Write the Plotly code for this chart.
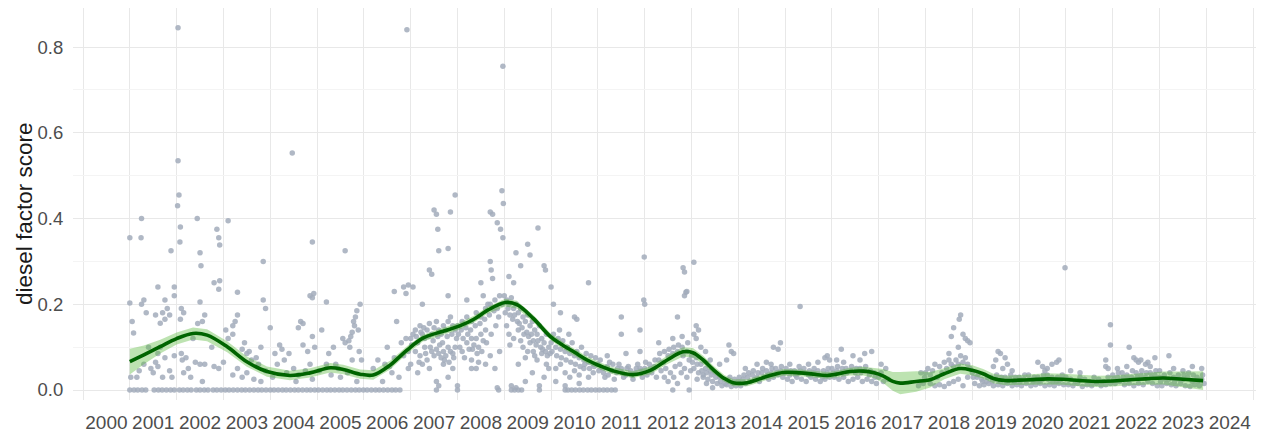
import plotly.graph_objects as go

# ---------------- data ----------------
year_labels = [str(y) for y in range(2000, 2025)]
score_ticks = [0.0, 0.2, 0.4, 0.6, 0.8]
score_tick_text = ["0.0", "0.2", "0.4", "0.6", "0.8"]
y_title = "diesel factor score"

# observations (decimal year, diesel factor score)
pts_2001_2003 = [
    (2001.0, 0.355), (2001.0, 0.203), (2001.02, 0.03), (2001.05, 0.16), (2001.08, 0.133), (2001.15, 0.03),
    (2001.25, 0.40), (2001.24, 0.355), (2001.25, 0.20), (2001.3, 0.21), (2001.3, 0.06), (2001.4, 0.10),
    (2001.45, 0.05), (2001.5, 0.04), (2001.55, 0.175), (2001.55, 0.065), (2001.6, 0.24), (2001.6, 0.055),
    (2001.6, 0.085), (2001.65, 0.10), (2001.7, 0.18), (2001.7, 0.03), (2001.75, 0.165), (2001.75, 0.075),
    (2001.8, 0.19), (2001.85, 0.175), (2001.85, 0.045), (2001.88, 0.325), (2001.9, 0.03), (2001.95, 0.22),
    (2001.95, 0.24), (2001.95, 0.08), (2001.35, 0.18), (2001.65, 0.156), (2001.75, 0.21), (2001.2, 0.045),
    (2002.03, 0.845), (2002.03, 0.535), (2002.05, 0.455), (2002.02, 0.43), (2002.08, 0.38), (2002.07, 0.345),
    (2002.44, 0.40), (2002.5, 0.32), (2002.52, 0.29), (2002.86, 0.375), (2002.9, 0.355), (2002.92, 0.338),
    (2002.8, 0.25), (2002.92, 0.255), (2002.9, 0.235), (2002.5, 0.205), (2002.6, 0.175), (2002.1, 0.19),
    (2002.15, 0.18), (2002.45, 0.155), (2002.55, 0.16), (2002.35, 0.12), (2002.1, 0.085), (2002.2, 0.075),
    (2002.4, 0.065), (2002.5, 0.06), (2002.12, 0.07), (2002.15, 0.04), (2002.3, 0.03), (2002.55, 0.02),
    (2002.8, 0.055), (2002.9, 0.05), (2002.75, 0.10), (2002.6, 0.06), (2002.08, 0.165), (2002.25, 0.05),
    (2003.1, 0.395), (2003.3, 0.228), (2003.05, 0.14), (2003.2, 0.15), (2003.25, 0.16), (2003.3, 0.175),
    (2003.1, 0.12), (2003.4, 0.095), (2003.5, 0.085), (2003.55, 0.09), (2003.6, 0.07), (2003.7, 0.075),
    (2003.2, 0.13), (2003.3, 0.05), (2003.4, 0.03), (2003.5, 0.04), (2003.8, 0.02), (2003.85, 0.30),
    (2003.85, 0.21), (2003.9, 0.19), (2003.75, 0.06), (2003.9, 0.045), (2003.8, 0.10), (2003.2, 0.035),
    (2003.65, 0.025), (2003.45, 0.11), (2003.0, 0.065),
]
pts_2004_2006 = [
    (2004.0, 0.145), (2004.1, 0.085), (2004.15, 0.06), (2004.2, 0.105), (2004.25, 0.095), (2004.3, 0.07),
    (2004.35, 0.04), (2004.5, 0.05), (2004.6, 0.035), (2004.47, 0.553), (2004.85, 0.22), (2004.9, 0.215),
    (2004.93, 0.225), (2004.9, 0.345), (2004.65, 0.16), (2004.6, 0.145), (2004.7, 0.105), (2004.8, 0.09),
    (2004.95, 0.10), (2004.75, 0.045), (2004.55, 0.02), (2004.9, 0.025), (2004.85, 0.06), (2004.9, 0.125),
    (2004.7, 0.155), (2004.4, 0.085), (2004.05, 0.03),
    (2005.2, 0.205), (2005.1, 0.14), (2005.35, 0.10), (2005.2, 0.06), (2005.3, 0.035), (2005.45, 0.05),
    (2005.6, 0.325), (2005.55, 0.12), (2005.6, 0.11), (2005.8, 0.15), (2005.82, 0.17), (2005.85, 0.185),
    (2005.78, 0.16), (2005.75, 0.135), (2005.72, 0.125), (2005.68, 0.115), (2005.7, 0.10), (2005.92, 0.20),
    (2005.9, 0.09), (2005.95, 0.07), (2005.65, 0.04), (2005.5, 0.03), (2005.85, 0.02), (2005.4, 0.06),
    (2005.25, 0.085), (2005.05, 0.045), (2005.75, 0.07), (2005.88, 0.14),
    (2006.92, 0.84), (2006.95, 0.245), (2006.85, 0.24), (2006.65, 0.23), (2006.7, 0.16), (2006.9, 0.225),
    (2006.5, 0.10), (2006.3, 0.07), (2006.2, 0.05), (2006.45, 0.06), (2006.6, 0.04), (2006.75, 0.03),
    (2006.8, 0.11), (2006.9, 0.12), (2006.85, 0.08), (2006.95, 0.09), (2006.95, 0.05), (2006.4, 0.02),
    (2006.65, 0.075), (2006.55, 0.055),
]
pts_2007_2009 = [
    (2007.5, 0.42), (2007.55, 0.41), (2007.58, 0.375), (2007.95, 0.455), (2007.85, 0.415), (2007.6, 0.325),
    (2007.8, 0.33), (2007.4, 0.28), (2007.45, 0.27), (2007.25, 0.20), (2007.8, 0.22), (2007.05, 0.24),
    (2007.55, 0.02), (2007.6, 0.01), (2007.8, 0.03), (2007.15, 0.04),
    (2007.0, 0.12), (2007.05, 0.13), (2007.1, 0.14), (2007.15, 0.11), (2007.2, 0.15), (2007.25, 0.13),
    (2007.3, 0.12), (2007.35, 0.14), (2007.4, 0.155), (2007.45, 0.13), (2007.5, 0.145), (2007.55, 0.16),
    (2007.6, 0.14), (2007.65, 0.13), (2007.7, 0.15), (2007.75, 0.14), (2007.8, 0.16), (2007.85, 0.17),
    (2007.9, 0.15), (2007.95, 0.14), (2007.1, 0.09), (2007.2, 0.08), (2007.3, 0.10), (2007.35, 0.07),
    (2007.45, 0.09), (2007.5, 0.08), (2007.55, 0.095), (2007.6, 0.085), (2007.65, 0.075), (2007.7, 0.09),
    (2007.75, 0.08), (2007.8, 0.10), (2007.85, 0.09), (2007.9, 0.085), (2007.95, 0.10), (2007.0, 0.06),
    (2007.25, 0.06), (2007.4, 0.05), (2007.7, 0.06), (2007.9, 0.05),
    (2008.97, 0.755), (2008.95, 0.465), (2008.98, 0.435), (2008.7, 0.415), (2008.75, 0.41), (2008.85, 0.39),
    (2008.92, 0.375), (2008.97, 0.355), (2008.7, 0.30), (2008.72, 0.28), (2008.75, 0.26), (2008.5, 0.25),
    (2008.55, 0.22), (2008.2, 0.21), (2008.65, 0.20),
    (2008.0, 0.15), (2008.1, 0.16), (2008.2, 0.17), (2008.3, 0.16), (2008.4, 0.18), (2008.5, 0.17),
    (2008.6, 0.19), (2008.7, 0.20), (2008.8, 0.21), (2008.9, 0.22), (2008.95, 0.20), (2008.85, 0.19),
    (2008.05, 0.10), (2008.1, 0.09), (2008.2, 0.11), (2008.25, 0.095), (2008.3, 0.12), (2008.35, 0.105),
    (2008.4, 0.12), (2008.45, 0.10), (2008.5, 0.13), (2008.55, 0.115), (2008.6, 0.14), (2008.15, 0.075),
    (2008.3, 0.07), (2008.45, 0.065), (2008.6, 0.06), (2008.7, 0.08), (2008.8, 0.05), (2008.0, 0.01),
    (2008.3, 0.05), (2008.4, 0.05), (2008.85, 0.005), (2008.9, 0.09),
    (2009.72, 0.378), (2009.55, 0.315), (2009.5, 0.34), (2009.25, 0.32), (2009.35, 0.29), (2009.85, 0.29),
    (2009.88, 0.28), (2009.1, 0.265), (2009.2, 0.25),
    (2009.0, 0.22), (2009.05, 0.21), (2009.1, 0.20), (2009.15, 0.215), (2009.2, 0.19), (2009.25, 0.20),
    (2009.3, 0.18), (2009.35, 0.19), (2009.4, 0.17), (2009.45, 0.16), (2009.5, 0.175), (2009.55, 0.15),
    (2009.6, 0.16), (2009.65, 0.14), (2009.7, 0.13), (2009.75, 0.15), (2009.8, 0.12), (2009.85, 0.11),
    (2009.9, 0.13), (2009.95, 0.10), (2009.05, 0.15), (2009.1, 0.13), (2009.2, 0.12), (2009.3, 0.14),
    (2009.4, 0.10), (2009.5, 0.09), (2009.55, 0.11), (2009.65, 0.08), (2009.7, 0.07), (2009.8, 0.085),
    (2009.9, 0.06), (2009.3, 0.06), (2009.6, 0.04), (2009.95, 0.05), (2009.15, 0.01), (2009.25, 0.005),
    (2009.45, 0.02), (2009.75, 0.01), (2009.85, 0.03),
]
pts_2010_2013 = [
    (2010.0, 0.24), (2010.05, 0.20), (2010.2, 0.18), (2010.5, 0.17), (2010.55, 0.165), (2010.8, 0.25),
    (2010.0, 0.11), (2010.1, 0.10), (2010.2, 0.095), (2010.3, 0.09), (2010.4, 0.085), (2010.5, 0.08),
    (2010.6, 0.075), (2010.7, 0.07), (2010.8, 0.065), (2010.9, 0.06), (2010.05, 0.13), (2010.15, 0.12),
    (2010.25, 0.115), (2010.35, 0.10), (2010.45, 0.11), (2010.55, 0.09), (2010.65, 0.10), (2010.75, 0.085),
    (2010.85, 0.08), (2010.95, 0.075), (2010.1, 0.05), (2010.2, 0.06), (2010.3, 0.04), (2010.4, 0.03),
    (2010.5, 0.045), (2010.6, 0.035), (2010.7, 0.05), (2010.8, 0.03), (2010.9, 0.04), (2010.3, 0.01),
    (2010.6, 0.015), (2010.1, 0.02),
    (2011.99, 0.31), (2011.98, 0.21), (2012.0, 0.20), (2011.5, 0.17), (2011.9, 0.14), (2011.5, 0.13),
    (2011.0, 0.06), (2011.1, 0.05), (2011.2, 0.055), (2011.3, 0.045), (2011.4, 0.04), (2011.5, 0.05),
    (2011.6, 0.035), (2011.7, 0.045), (2011.8, 0.04), (2011.9, 0.05), (2011.05, 0.07), (2011.25, 0.065),
    (2011.45, 0.06), (2011.65, 0.055), (2011.85, 0.06), (2011.15, 0.03), (2011.35, 0.025), (2011.55, 0.03),
    (2011.75, 0.025), (2011.95, 0.03), (2011.2, 0.08), (2011.6, 0.085), (2011.9, 0.09),
    (2012.82, 0.285), (2012.85, 0.275), (2013.05, 0.298), (2012.88, 0.228), (2012.85, 0.22), (2012.9, 0.23),
    (2012.7, 0.17), (2013.1, 0.15), (2013.15, 0.14),
    (2012.0, 0.05), (2012.1, 0.06), (2012.2, 0.055), (2012.3, 0.07), (2012.4, 0.065), (2012.5, 0.08),
    (2012.6, 0.085), (2012.7, 0.09), (2012.8, 0.10), (2012.9, 0.09), (2012.05, 0.035), (2012.15, 0.04),
    (2012.25, 0.03), (2012.35, 0.045), (2012.45, 0.05), (2012.55, 0.04), (2012.65, 0.055), (2012.75, 0.06),
    (2012.85, 0.05), (2012.95, 0.07), (2012.5, 0.02), (2012.7, 0.015), (2012.9, 0.03), (2012.3, 0.11),
    (2012.6, 0.12), (2012.8, 0.125),
    (2013.0, 0.08), (2013.1, 0.075), (2013.2, 0.06), (2013.3, 0.05), (2013.4, 0.045), (2013.5, 0.04),
    (2013.6, 0.03), (2013.7, 0.025), (2013.8, 0.02), (2013.9, 0.015), (2013.05, 0.05), (2013.15, 0.04),
    (2013.25, 0.035), (2013.35, 0.025), (2013.45, 0.02), (2013.55, 0.015), (2013.65, 0.01), (2013.75, 0.012),
    (2013.85, 0.008), (2013.95, 0.01), (2013.1, 0.12), (2013.2, 0.10), (2013.3, 0.09), (2013.05, 0.13),
    (2013.6, 0.06), (2013.75, 0.07), (2013.85, 0.09), (2013.8, 0.105), (2013.9, 0.085), (2013.25, 0.03),
    (2013.4, 0.07), (2013.45, 0.005),
]
pts_2014_2018 = [
    (2014.0, 0.02), (2014.1, 0.025), (2014.2, 0.03), (2014.3, 0.035), (2014.4, 0.03), (2014.5, 0.04),
    (2014.6, 0.045), (2014.7, 0.04), (2014.8, 0.05), (2014.9, 0.045), (2014.05, 0.01), (2014.15, 0.015),
    (2014.25, 0.02), (2014.35, 0.025), (2014.45, 0.02), (2014.55, 0.03), (2014.65, 0.025), (2014.75, 0.03),
    (2014.85, 0.035), (2014.95, 0.03), (2014.15, 0.05), (2014.4, 0.06), (2014.6, 0.065), (2014.75, 0.10),
    (2014.85, 0.095), (2014.9, 0.11), (2014.7, 0.06),
    (2015.32, 0.195), (2015.0, 0.04), (2015.1, 0.035), (2015.2, 0.045), (2015.3, 0.04), (2015.4, 0.05),
    (2015.5, 0.035), (2015.6, 0.04), (2015.7, 0.045), (2015.8, 0.03), (2015.9, 0.04), (2015.05, 0.025),
    (2015.15, 0.02), (2015.25, 0.03), (2015.35, 0.025), (2015.45, 0.02), (2015.55, 0.03), (2015.65, 0.025),
    (2015.75, 0.02), (2015.85, 0.025), (2015.95, 0.03), (2015.1, 0.06), (2015.3, 0.055), (2015.5, 0.06),
    (2015.7, 0.065), (2015.85, 0.075), (2015.9, 0.08), (2015.95, 0.07),
    (2016.0, 0.05), (2016.1, 0.045), (2016.2, 0.04), (2016.3, 0.05), (2016.4, 0.045), (2016.5, 0.04),
    (2016.6, 0.05), (2016.7, 0.045), (2016.8, 0.035), (2016.9, 0.04), (2016.05, 0.03), (2016.15, 0.025),
    (2016.25, 0.03), (2016.35, 0.02), (2016.45, 0.025), (2016.55, 0.03), (2016.65, 0.02), (2016.75, 0.025),
    (2016.85, 0.02), (2016.95, 0.015), (2016.1, 0.07), (2016.25, 0.065), (2016.45, 0.08), (2016.6, 0.07),
    (2016.85, 0.09), (2016.2, 0.095), (2016.7, 0.085),
    (2017.0, 0.03), (2017.05, 0.04), (2017.1, 0.02), (2017.15, 0.05), (2017.2, 0.025), (2017.05, 0.06),
    (2017.9, 0.02), (2017.95, 0.015), (2017.9, 0.04), (2017.85, 0.01), (2017.98, 0.03),
    (2018.75, 0.175), (2018.72, 0.165), (2018.6, 0.145), (2018.55, 0.125), (2018.8, 0.13), (2018.85, 0.12),
    (2018.9, 0.115), (2018.95, 0.11), (2018.7, 0.10), (2018.5, 0.085),
    (2018.0, 0.04), (2018.05, 0.05), (2018.1, 0.035), (2018.15, 0.045), (2018.2, 0.06), (2018.25, 0.03),
    (2018.3, 0.055), (2018.35, 0.04), (2018.4, 0.065), (2018.45, 0.05), (2018.5, 0.07), (2018.55, 0.06),
    (2018.6, 0.055), (2018.65, 0.07), (2018.7, 0.06), (2018.75, 0.08), (2018.8, 0.065), (2018.85, 0.075),
    (2018.9, 0.06), (2018.95, 0.05), (2018.1, 0.015), (2018.2, 0.01), (2018.3, 0.012), (2018.4, 0.008),
    (2018.5, 0.015), (2018.6, 0.02), (2018.7, 0.025), (2018.8, 0.01), (2018.9, 0.03),
]
pts_2019_2023 = [
    (2019.0, 0.04), (2019.1, 0.03), (2019.2, 0.025), (2019.3, 0.02), (2019.4, 0.03), (2019.5, 0.025),
    (2019.6, 0.02), (2019.7, 0.03), (2019.8, 0.025), (2019.9, 0.02), (2019.05, 0.015), (2019.15, 0.01),
    (2019.25, 0.012), (2019.35, 0.015), (2019.45, 0.01), (2019.55, 0.012), (2019.65, 0.01), (2019.75, 0.015),
    (2019.85, 0.01), (2019.95, 0.012), (2019.55, 0.09), (2019.6, 0.085), (2019.5, 0.07), (2019.7, 0.075),
    (2019.75, 0.06), (2019.65, 0.05), (2019.45, 0.055), (2019.85, 0.045),
    (2020.0, 0.03), (2020.1, 0.025), (2020.2, 0.035), (2020.3, 0.02), (2020.4, 0.03), (2020.5, 0.025),
    (2020.6, 0.035), (2020.7, 0.03), (2020.8, 0.02), (2020.9, 0.025), (2020.05, 0.01), (2020.15, 0.015),
    (2020.25, 0.01), (2020.35, 0.012), (2020.45, 0.015), (2020.55, 0.01), (2020.65, 0.012), (2020.75, 0.01),
    (2020.85, 0.015), (2020.95, 0.012), (2020.4, 0.065), (2020.5, 0.055), (2020.6, 0.05), (2020.7, 0.06),
    (2020.8, 0.065), (2020.85, 0.07), (2020.98, 0.285), (2020.55, 0.045),
    (2021.0, 0.03), (2021.1, 0.025), (2021.2, 0.02), (2021.3, 0.03), (2021.4, 0.025), (2021.5, 0.02),
    (2021.6, 0.03), (2021.7, 0.025), (2021.8, 0.02), (2021.9, 0.03), (2021.05, 0.012), (2021.15, 0.01),
    (2021.25, 0.015), (2021.35, 0.008), (2021.45, 0.012), (2021.55, 0.01), (2021.65, 0.015), (2021.75, 0.01),
    (2021.85, 0.012), (2021.95, 0.015), (2021.95, 0.152), (2021.95, 0.105), (2021.85, 0.07), (2021.85, 0.055),
    (2021.1, 0.045), (2021.3, 0.04), (2021.9, 0.05),
    (2022.0, 0.035), (2022.1, 0.03), (2022.2, 0.04), (2022.3, 0.035), (2022.4, 0.03), (2022.5, 0.04),
    (2022.6, 0.035), (2022.7, 0.03), (2022.8, 0.04), (2022.9, 0.035), (2022.05, 0.015), (2022.15, 0.02),
    (2022.25, 0.012), (2022.35, 0.015), (2022.45, 0.01), (2022.55, 0.015), (2022.65, 0.012), (2022.75, 0.02),
    (2022.85, 0.015), (2022.95, 0.01), (2022.45, 0.075), (2022.5, 0.07), (2022.55, 0.065), (2022.6, 0.07),
    (2022.7, 0.06), (2022.75, 0.065), (2022.8, 0.055), (2022.35, 0.10), (2022.9, 0.075), (2022.1, 0.05),
    (2022.3, 0.055),
    (2023.0, 0.03), (2023.1, 0.035), (2023.2, 0.025), (2023.3, 0.03), (2023.4, 0.035), (2023.5, 0.025),
    (2023.6, 0.03), (2023.7, 0.02), (2023.8, 0.03), (2023.9, 0.025), (2023.05, 0.01), (2023.15, 0.015),
    (2023.25, 0.012), (2023.35, 0.01), (2023.45, 0.015), (2023.55, 0.01), (2023.65, 0.008), (2023.75, 0.012),
    (2023.85, 0.01), (2023.95, 0.015), (2023.3, 0.05), (2023.5, 0.045), (2023.7, 0.055), (2023.9, 0.05),
    (2023.0, 0.045), (2023.2, 0.08),
]
# additional observations in the dense clusters around the trend
pts_dense_clusters = [
    (2007.02, 0.105), (2007.12, 0.125), (2007.22, 0.135), (2007.28, 0.145), (2007.38, 0.125), (2007.48, 0.115),
    (2007.58, 0.125), (2007.68, 0.11), (2007.78, 0.125), (2007.88, 0.13), (2007.98, 0.12), (2007.42, 0.10),
    (2007.62, 0.105), (2007.72, 0.07), (2007.82, 0.065), (2007.92, 0.075), (2007.32, 0.085), (2007.18, 0.065),
    (2008.02, 0.13), (2008.08, 0.14), (2008.18, 0.145), (2008.28, 0.14), (2008.38, 0.15), (2008.48, 0.155),
    (2008.58, 0.165), (2008.68, 0.175), (2008.78, 0.185), (2008.88, 0.17), (2008.12, 0.12), (2008.22, 0.13),
    (2008.32, 0.095), (2008.42, 0.085), (2008.52, 0.09), (2008.62, 0.11), (2008.72, 0.13), (2008.82, 0.15),
    (2009.02, 0.18), (2009.08, 0.19), (2009.12, 0.175), (2009.18, 0.165), (2009.22, 0.175), (2009.28, 0.16),
    (2009.32, 0.155), (2009.38, 0.145), (2009.42, 0.13), (2009.48, 0.135), (2009.52, 0.125), (2009.58, 0.13),
    (2009.62, 0.115), (2009.68, 0.105), (2009.72, 0.115), (2009.78, 0.10), (2009.82, 0.095), (2009.88, 0.09),
    (2009.92, 0.08), (2009.98, 0.085), (2009.12, 0.105), (2009.35, 0.115), (2009.62, 0.09), (2009.45, 0.075),
    (2010.02, 0.09), (2010.12, 0.08), (2010.22, 0.075), (2010.32, 0.07), (2010.42, 0.065), (2010.52, 0.06),
    (2010.62, 0.055), (2010.72, 0.06), (2010.82, 0.05), (2010.92, 0.055), (2010.18, 0.14), (2010.38, 0.13),
    (2011.02, 0.045), (2011.12, 0.04), (2011.22, 0.035), (2011.32, 0.06), (2011.42, 0.05), (2011.52, 0.04),
    (2011.62, 0.05), (2011.72, 0.035), (2011.82, 0.05), (2011.92, 0.045),
    (2012.02, 0.065), (2012.12, 0.05), (2012.22, 0.07), (2012.32, 0.085), (2012.42, 0.09), (2012.52, 0.095),
    (2012.62, 0.10), (2012.72, 0.105), (2012.82, 0.08), (2012.92, 0.11), (2012.42, 0.03), (2012.62, 0.03),
    (2012.78, 0.04), (2012.98, 0.045),
    (2013.02, 0.065), (2013.12, 0.06), (2013.22, 0.045), (2013.32, 0.04), (2013.42, 0.035), (2013.52, 0.03),
    (2013.62, 0.02), (2013.72, 0.015), (2013.82, 0.03), (2013.92, 0.025), (2013.12, 0.025), (2013.32, 0.015),
    (2014.02, 0.03), (2014.12, 0.035), (2014.22, 0.04), (2014.32, 0.045), (2014.42, 0.04), (2014.52, 0.05),
    (2014.62, 0.035), (2014.72, 0.05), (2014.82, 0.04), (2014.92, 0.055),
    (2015.02, 0.05), (2015.12, 0.045), (2015.22, 0.035), (2015.32, 0.045), (2015.42, 0.04), (2015.52, 0.045),
    (2015.62, 0.05), (2015.72, 0.035), (2015.82, 0.045), (2015.92, 0.05),
    (2016.02, 0.04), (2016.12, 0.055), (2016.22, 0.05), (2016.32, 0.04), (2016.42, 0.055), (2016.52, 0.05),
    (2016.62, 0.04), (2016.72, 0.055), (2016.82, 0.045), (2016.92, 0.03),
    (2019.02, 0.03), (2019.12, 0.035), (2019.22, 0.02), (2019.32, 0.03), (2019.42, 0.02), (2019.52, 0.035),
    (2019.62, 0.03), (2019.72, 0.02), (2019.82, 0.035), (2019.92, 0.03),
    (2020.02, 0.02), (2020.12, 0.035), (2020.22, 0.025), (2020.32, 0.03), (2020.42, 0.02), (2020.52, 0.035),
    (2020.62, 0.025), (2020.72, 0.02), (2020.82, 0.03), (2020.92, 0.035),
    (2022.02, 0.025), (2022.12, 0.04), (2022.22, 0.03), (2022.32, 0.025), (2022.42, 0.045), (2022.52, 0.03),
    (2022.62, 0.045), (2022.72, 0.04), (2022.82, 0.03), (2022.92, 0.045),
    (2023.02, 0.02), (2023.12, 0.025), (2023.22, 0.04), (2023.32, 0.02), (2023.42, 0.025), (2023.52, 0.035),
    (2023.62, 0.04), (2023.72, 0.035), (2023.82, 0.02), (2023.92, 0.035),
]
# dates of observations with a score of exactly zero
zero_score_years = [
    2001.0, 2001.09, 2001.17, 2001.26, 2001.34, 2001.52, 2001.61, 2001.69, 2001.78, 2001.87, 2001.95,
    2002.06, 2002.14, 2002.23, 2002.31, 2002.42, 2002.5, 2002.59, 2002.67, 2002.78, 2002.86, 2002.95,
    2003.04, 2003.12, 2003.21, 2003.3, 2003.39, 2003.47, 2003.56, 2003.65, 2003.74, 2003.82, 2003.91,
    2004.0, 2004.08, 2004.17, 2004.26, 2004.34, 2004.43, 2004.52, 2004.6, 2004.69, 2004.78, 2004.86,
    2004.95, 2005.03, 2005.12, 2005.21, 2005.29, 2005.38, 2005.47, 2005.55, 2005.64, 2005.73, 2005.82,
    2005.9, 2005.99, 2006.07, 2006.16, 2006.25, 2006.33, 2006.42, 2006.51, 2006.6, 2006.68, 2006.77,
    2007.55, 2008.0, 2008.88, 2009.15, 2009.22, 2009.3, 2009.37, 2009.75, 2010.3,
    2010.36, 2010.44, 2010.52, 2010.61, 2010.69, 2010.78, 2010.86, 2010.95, 2011.03, 2011.12,
    2011.2, 2011.29, 2011.37, 2012.6, 2012.95,
]

# smoothed trend (loess) with its confidence band
trend_year = [
    2001.0, 2001.3, 2001.65, 2002.0, 2002.35, 2002.65, 2003.08, 2003.5, 2003.93, 2004.42, 2004.85,
    2005.28, 2005.56, 2005.92, 2006.2, 2006.56, 2006.92, 2007.26, 2007.69, 2008.06, 2008.35, 2008.63,
    2009.02, 2009.27, 2009.62, 2009.98, 2010.2, 2010.5, 2010.77, 2011.05, 2011.32, 2011.75, 2012.12,
    2012.48, 2012.82, 2013.03, 2013.25, 2013.46, 2013.7, 2013.89, 2014.19, 2014.4, 2014.62, 2014.96,
    2015.32, 2015.6, 2015.9, 2016.1, 2016.39, 2016.67, 2016.9, 2017.09, 2017.3, 2017.46, 2017.8,
    2018.1, 2018.4, 2018.74, 2019.0, 2019.23, 2019.45, 2019.7, 2020.0, 2020.24, 2020.6, 2020.94,
    2021.3, 2021.67, 2022.0, 2022.37, 2022.7, 2023.08, 2023.5, 2023.93,
]
trend_score = [
    0.066, 0.082, 0.101, 0.120, 0.132, 0.128, 0.101, 0.066, 0.043, 0.034, 0.040,
    0.052, 0.048, 0.037, 0.035, 0.058, 0.093, 0.121, 0.137, 0.150, 0.165, 0.185,
    0.204, 0.199, 0.167, 0.125, 0.108, 0.088, 0.070, 0.056, 0.045, 0.036, 0.046,
    0.070, 0.089, 0.087, 0.070, 0.048, 0.027, 0.017, 0.017, 0.024, 0.032, 0.041,
    0.040, 0.037, 0.034, 0.037, 0.043, 0.044, 0.040, 0.033, 0.020, 0.016, 0.020,
    0.024, 0.038, 0.050, 0.046, 0.038, 0.027, 0.022, 0.023, 0.024, 0.026, 0.025,
    0.022, 0.020, 0.021, 0.024, 0.026, 0.028, 0.025, 0.022,
]
trend_halfwidth = [
    0.030, 0.022, 0.016, 0.014, 0.014, 0.014, 0.013, 0.012, 0.012, 0.011, 0.011,
    0.011, 0.011, 0.011, 0.011, 0.010, 0.009, 0.008, 0.008, 0.008, 0.008, 0.008,
    0.009, 0.009, 0.008, 0.008, 0.008, 0.008, 0.008, 0.008, 0.008, 0.008, 0.009,
    0.010, 0.011, 0.011, 0.010, 0.009, 0.008, 0.008, 0.008, 0.008, 0.008, 0.008,
    0.008, 0.008, 0.008, 0.008, 0.009, 0.010, 0.012, 0.016, 0.022, 0.026, 0.024,
    0.018, 0.013, 0.012, 0.012, 0.011, 0.011, 0.011, 0.012, 0.012, 0.013, 0.013,
    0.013, 0.013, 0.013, 0.013, 0.014, 0.015, 0.018, 0.022,
]

# ---------------- figure ----------------
all_pts = (pts_2001_2003 + pts_2004_2006 + pts_2007_2009 + pts_2010_2013
           + pts_2014_2018 + pts_2019_2023 + pts_dense_clusters)
px = [p[0] for p in all_pts] + zero_score_years
py = [p[1] for p in all_pts] + [0.0] * len(zero_score_years)

upper = [s + h for s, h in zip(trend_score, trend_halfwidth)]
lower = [s - h for s, h in zip(trend_score, trend_halfwidth)]

fig = go.Figure()
fig.add_trace(go.Scatter(
    x=px, y=py, mode="markers",
    marker=dict(size=5.5, color="#A2ACBB", opacity=0.85, line=dict(width=0)),
    showlegend=False, hoverinfo="skip",
))
fig.add_trace(go.Scatter(
    x=trend_year + trend_year[::-1], y=upper + lower[::-1],
    fill="toself", fillcolor="rgba(90,185,60,0.40)", line=dict(width=0),
    mode="lines", showlegend=False, hoverinfo="skip",
))
fig.add_trace(go.Scatter(
    x=trend_year, y=trend_score, mode="lines", line=dict(color="#006400", width=3.6, shape="spline"),
    showlegend=False,
))

font_family = "Liberation Sans, Arial, sans-serif"
PLOT_W = 1261 - 73 - 5
fig.update_layout(
    width=1261, height=435,
    margin=dict(l=73, r=5, t=8, b=35),
    paper_bgcolor="white", plot_bgcolor="white",
    xaxis=dict(
        automargin=False,
        range=[1999.786, 2025.06],
        tickmode="array",
        tickvals=[int(y) + 0.5 for y in year_labels],
        ticktext=year_labels,
        showgrid=False, zeroline=False, showline=False,
        ticks="outside", ticklen=5, tickcolor="rgba(0,0,0,0)",
        tickfont=dict(family=font_family, size=19, color="#4D4D4D"),
        minor=dict(tickvals=[int(y) for y in year_labels] + [2025], showgrid=True,
                   gridcolor="#E8E8E8", gridwidth=1.2, ticks=""),
    ),
    yaxis=dict(
        automargin=False,
        range=[-0.0233, 0.891],
        tickmode="array", tickvals=score_ticks, ticktext=score_tick_text,
        showgrid=True, gridcolor="#E8E8E8", gridwidth=1.2,
        zeroline=False, showline=False,
        ticks="outside", ticklen=5, tickcolor="rgba(0,0,0,0)",
        tickfont=dict(family=font_family, size=18.5, color="#4D4D4D"),
        minor=dict(tickvals=[0.1, 0.3, 0.5, 0.7], showgrid=True, gridcolor="#F4F4F4", gridwidth=1, ticks=""),
    ),
    annotations=[dict(
        text=y_title, textangle=-90, showarrow=False,
        xref="paper", yref="paper", x=(24 - 73) / PLOT_W, y=(400 - 214) / 392,
        xanchor="center", yanchor="middle",
        font=dict(family=font_family, size=22.5, color="#1A1A1A"),
    )],
)

fig.write_html("out.html", config={"displayModeBar": False},
               post_script="document.body.style.margin='0';")
